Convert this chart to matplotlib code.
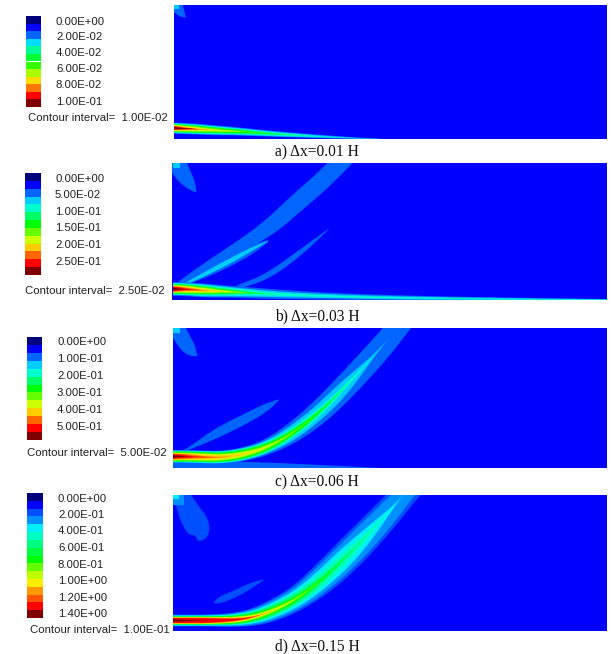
import numpy as np
import matplotlib
matplotlib.use('Agg')
import matplotlib.pyplot as plt
from matplotlib.patches import Rectangle

# colour ramps of the legends, low to high
ramp_a = ['#00007f', '#0000ff', '#0066ff', '#00ddff', '#00ff99', '#00ff33',
          '#33ff00', '#aaff00', '#ffdd00', '#ff7700', '#ff0000', '#800000']
ramp_bc = ['#00007f', '#0000ff', '#0066ff', '#00ccff', '#00ffcc', '#00ff66', '#00ff00',
           '#66ff00', '#ccff00', '#ffcc00', '#ff6600', '#ff0000', '#800000']
ramp_d = ['#00007f', '#0000ff', '#0050ff', '#0090ff', '#00eeff', '#00ffc0', '#00ff80', '#00ff40',
          '#00ff00', '#66ff00', '#bbff00', '#ffee00', '#ff9900', '#ff5500', '#ff0000', '#800000']

labels_a = ['0.00E+00', '2.00E-02', '4.00E-02', '6.00E-02', '8.00E-02', '1.00E-01']
labels_b = ['0.00E+00', '5.00E-02', '1.00E-01', '1.50E-01', '2.00E-01', '2.50E-01']
labels_c = ['0.00E+00', '1.00E-01', '2.00E-01', '3.00E-01', '4.00E-01', '5.00E-01']
labels_d = ['0.00E+00', '2.00E-01', '4.00E-01', '6.00E-01', '8.00E-01',
            '1.00E+00', '1.20E+00', '1.40E+00']

# jet of panel a: centre line and half width per colour level
a_x = [174, 182, 195, 215, 240, 270, 310, 350, 392]
a_y = [128, 128.5, 129, 130.3, 131.5, 133.7, 136, 138, 139.5]
a_hw = [[5.5, 5.5, 5.5, 5, 4, 3, 2, 1, 0.1],
        [5, 5, 4.8, 4.2, 3.3, 2.4, 1.3, 0.4, 0],
        [4.5, 4.5, 4.3, 3.7, 2.7, 1.7, 0.4, 0, 0],
        [4, 4, 3.8, 3.1, 2.1, 0.8, 0, 0, 0],
        [3.6, 3.6, 3.3, 2.5, 1.3, 0, 0, 0, 0],
        [3.2, 3.2, 2.8, 1.8, 0.4, 0, 0, 0, 0],
        [2.8, 2.7, 2, 0.8, 0, 0, 0, 0, 0],
        [2.4, 2.2, 1.1, 0, 0, 0, 0, 0, 0],
        [2, 1.5, 0.2, 0, 0, 0, 0, 0, 0],
        [1.7, 1, 0, 0, 0, 0, 0, 0, 0],
        [1.2, 0.4, 0, 0, 0, 0, 0, 0, 0]]

# jet of panel b
b_x = [173, 180, 190, 205, 225, 245, 270, 320, 400, 500, 607]
b_y = [289, 289, 289.5, 290.5, 291.5, 292.5, 294, 296, 298, 299, 300]
b_hw = [[7, 7, 7, 7, 6, 5.5, 5, 3.5, 2.5, 1.5, 1],
        [6, 6, 6, 6, 5, 4, 3, 2, 1.5, 1, 0.7],
        [5.5, 5.5, 5.5, 5, 4, 3, 1.5, 0.8, 0.6, 0.4, 0.3],
        [5, 5, 4.7, 4.2, 3, 1.5, 0, 0, 0, 0, 0],
        [4.5, 4.5, 4.2, 3.5, 2.2, 0.3, 0, 0, 0, 0, 0],
        [4, 4, 3.6, 3, 1.5, 0, 0, 0, 0, 0, 0],
        [3.5, 3.4, 3, 2.2, 0.5, 0, 0, 0, 0, 0, 0],
        [3, 2.8, 2.2, 1, 0, 0, 0, 0, 0, 0, 0],
        [2.6, 2.3, 1.3, 0, 0, 0, 0, 0, 0, 0, 0],
        [2.4, 1.5, 0.2, 0, 0, 0, 0, 0, 0, 0, 0],
        [1.5, 0.3, 0, 0, 0, 0, 0, 0, 0, 0, 0]]
b_up_x = [173, 200, 233, 267, 300, 320, 340, 355]
b_up_y = [287, 270, 250, 230, 200, 183, 163, 148]
b_up_hw = [1, 3.5, 5, 8, 9, 9, 9, 9]
b_sub_x = [178, 205, 230, 250, 268]
b_sub_y = [285, 274, 261, 250, 241]
b_sub_hw = [2, 4, 5, 5, 1]
b_streak_x = [185, 205, 230, 250, 268]
b_streak_y = [284, 274, 261, 250, 241]
b_streak_hw = [1, 2, 2.5, 1.8, 0.2]
b_low_x = [238, 267, 300, 331]
b_low_y = [287, 277, 253, 227]
b_low_hw = [2, 3, 3, 0]

# jet of panel c
c_x = [173, 185, 200, 225, 250, 270, 293, 320, 345, 370, 385, 397, 405]
c_y = [456.5, 456.5, 457, 457.5, 453, 446, 433, 412, 387, 360, 343, 328, 318]
c_hw = [[6.5, 6.5, 6.5, 6.5, 7, 8, 10, 11.5, 12, 12, 11.5, 11, 11],
        [6, 6, 6, 6, 6, 6, 7, 7, 6.5, 1.5, 0, 0, 0],
        [5.5, 5.5, 5.5, 5.5, 5.5, 5, 4.5, 3.5, 1.5, 0, 0, 0, 0],
        [5.2, 5, 5, 5, 4.8, 4, 3.2, 1.5, 0, 0, 0, 0, 0],
        [4.8, 4.8, 4.7, 4.5, 4, 3.2, 2.2, 0.5, 0, 0, 0, 0, 0],
        [4, 4, 3.9, 3.5, 2.8, 1.8, 0.6, 0, 0, 0, 0, 0, 0],
        [3.6, 3.5, 3.3, 2.8, 1.8, 0.6, 0, 0, 0, 0, 0, 0, 0],
        [3.2, 3, 2.7, 1.6, 0.3, 0, 0, 0, 0, 0, 0, 0, 0],
        [2.8, 2.5, 1.2, 0, 0, 0, 0, 0, 0, 0, 0, 0, 0],
        [2.4, 1.2, 0, 0, 0, 0, 0, 0, 0, 0, 0, 0, 0],
        [1.5, 0, 0, 0, 0, 0, 0, 0, 0, 0, 0, 0, 0]]
c_side_x = [180, 192, 217, 247, 267, 280]
c_side_y = [453, 447, 433, 418, 407, 399]
c_side_hw = [0.5, 1.5, 5, 5, 4, 0]
c_low_x = [173, 240, 385]
c_low_y = [465, 465, 468.5]
c_low_hw = [3.5, 4, 0.3]

# jet of panel d
d_x = [173, 190, 210, 235, 255, 275, 300, 325, 350, 375, 395, 405, 415]
d_y = [620.5, 620.5, 620.5, 620, 617, 610, 597, 577, 553, 527, 505, 493, 482]
d_hw = [[6, 6, 6, 7, 9, 11, 12.5, 15, 16, 15, 13.5, 13, 13],
        [5.5, 5.5, 5.5, 6.5, 8, 9.5, 10.5, 12.5, 13, 12, 10, 9, 9],
        [5, 5, 5, 5.5, 6.5, 7.5, 8, 9, 9, 5, 0.5, 0, 0],
        [4.6, 4.6, 4.6, 5, 5.5, 6, 6.2, 6, 5, 1, 0, 0, 0],
        [4.2, 4.2, 4.2, 4.5, 5, 5, 4.7, 3.2, 1.2, 0, 0, 0, 0],
        [3.9, 3.9, 3.9, 4.1, 4.3, 4, 3.3, 1.2, 0, 0, 0, 0, 0],
        [3.7, 3.7, 3.7, 3.6, 3.4, 2.8, 1.6, 0.3, 0, 0, 0, 0, 0],
        [3.5, 3.5, 3.4, 3.1, 2.7, 2, 0.8, 0, 0, 0, 0, 0, 0],
        [3.3, 3.3, 3.2, 2.8, 2, 1, 0, 0, 0, 0, 0, 0, 0],
        [3.1, 3.1, 3, 2.5, 1.3, 0.3, 0, 0, 0, 0, 0, 0, 0],
        [2.9, 2.9, 2.8, 2, 0.6, 0, 0, 0, 0, 0, 0, 0, 0],
        [2.7, 2.7, 2.6, 1.4, 0, 0, 0, 0, 0, 0, 0, 0, 0],
        [2.4, 2.4, 2.2, 0.8, 0, 0, 0, 0, 0, 0, 0, 0, 0],
        [1.5, 0.5, 0, 0, 0, 0, 0, 0, 0, 0, 0, 0, 0]]
d_side_x = [214, 220, 235, 250, 263]
d_side_y = [603, 600, 594, 586, 580]
d_side_hw = [0.5, 3.5, 3.5, 3, 0.5]

# blobs in the upper left corners
a_blob_x = [176, 180, 186]
a_blob_y = [4, 12, 18]
a_blob_hw = [6, 5, 0]
b_blob_x = [176, 180, 190, 196]
b_blob_y = [158, 170, 184, 192]
b_blob_hw = [9, 9, 6, 0.5]
c_blob_x = [176, 180, 190, 197]
c_blob_y = [324, 335, 350, 356]
c_blob_hw = [8, 8, 7, 0.5]
d_blob_x = [180, 188, 197, 201, 198]
d_blob_y = [490, 510, 525, 535, 541]
d_blob_hw = [7, 11, 13, 9, 0]

fig = plt.figure(figsize=(6.11, 6.54), dpi=100)
ax = fig.add_axes([0, 0, 1, 1])
ax.set_xlim(0, 611)
ax.set_ylim(654, 0)
ax.axis('off')


def smooth(v):
    # round the corners of a hand read outline
    t = np.arange(len(v))
    tf = np.linspace(0, len(v) - 1, (len(v) - 1) * 12 + 1)
    vf = np.interp(tf, t, v)
    pad = np.pad(vf, 12, mode='reflect', reflect_type='odd')
    return np.convolve(pad, np.ones(13) / 13, mode='same')[12:-12]


def ribbon(xs, ys, hw, color, clip):
    xs = smooth(np.array(xs, float))
    ys = smooth(np.array(ys, float))
    hw = np.clip(smooth(np.array(hw, float)), 0, None)
    keep = hw > 0.05
    dx = np.gradient(xs)
    dy = np.gradient(ys)
    nn = np.hypot(dx, dy)
    px = (-dy / nn * hw)[keep]
    py = (dx / nn * hw)[keep]
    xs = xs[keep]
    ys = ys[keep]
    poly = ax.fill(np.r_[xs + px, (xs - px)[::-1]], np.r_[ys + py, (ys - py)[::-1]],
                   color=color, lw=0)[0]
    poly.set_clip_path(clip)


def panel(x0, x1, y0, y1, bg):
    r = Rectangle((x0, y0), x1 - x0, y1 - y0, fc=bg, ec='none')
    ax.add_patch(r)
    return r


def corner(x0, y0, w, h, color):
    ax.add_patch(Rectangle((x0, y0), w, h, fc=color, ec='none'))


def legend(x0, x1, y0, y1, ramp, labels, lab_x, lab_y, note, note_x, note_y):
    step = (y1 - y0) / len(ramp)
    ax.barh(y0 + step * (np.arange(len(ramp)) + 0.5), x1 - x0, height=step, left=x0, color=ramp, lw=0)
    for s, yy in zip(labels, lab_y):
        ax.text(lab_x, yy, s, fontsize=8.2, family='Liberation Sans', va='center', color='#222222')
    ax.text(note_x, note_y, note, fontsize=8.2, family='Liberation Sans', va='center', color='#222222')


def caption(x, y, s):
    ax.text(x, y, s, fontsize=11.2, family='Liberation Serif', ha='center', va='center', color='#111111')


# a
clip = panel(174, 607, 5, 139, ramp_a[1])
ribbon(a_blob_x, a_blob_y, a_blob_hw, ramp_bc[2], clip)
corner(174, 5, 5, 4, ramp_bc[3])
for i, row in enumerate(a_hw):
    ribbon(a_x, a_y, row, ramp_bc[i + 2], clip)
legend(26, 41, 16, 107, ramp_a, labels_a, 56, [22, 37, 53, 69, 85, 102],
       'Contour interval=  1.00E-02', 28, 118)
caption(317, 152, 'a) Δx=0.01 H')

# b
clip = panel(172, 607, 163, 300, ramp_bc[1])
ribbon(b_blob_x, b_blob_y, b_blob_hw, ramp_bc[2], clip)
corner(173, 163, 7, 5, ramp_bc[3])
ribbon(b_up_x, b_up_y, b_up_hw, ramp_bc[2], clip)
ribbon(b_sub_x, b_sub_y, b_sub_hw, ramp_bc[2], clip)
ribbon(b_low_x, b_low_y, b_low_hw, ramp_bc[2], clip)
ribbon(b_streak_x, b_streak_y, b_streak_hw, ramp_bc[3], clip)
for i, row in enumerate(b_hw):
    ribbon(b_x, b_y, row, ramp_bc[i + 2], clip)
legend(25, 41, 173, 275, ramp_bc, labels_b, 55, [179, 195, 212, 228, 245, 262],
       'Contour interval=  2.50E-02', 25, 291)
caption(317, 316, 'b) Δx=0.03 H')

# c
clip = panel(173, 607, 328, 468, ramp_bc[1])
ribbon(c_blob_x, c_blob_y, c_blob_hw, ramp_bc[2], clip)
corner(173, 328, 7, 5, ramp_bc[3])
ribbon(c_side_x, c_side_y, c_side_hw, ramp_bc[2], clip)
ribbon(c_low_x, c_low_y, c_low_hw, ramp_bc[2], clip)
for i, row in enumerate(c_hw):
    ribbon(c_x, c_y, row, ramp_bc[i + 2], clip)
legend(27, 42, 337, 440, ramp_bc, labels_c, 57, [342, 359, 376, 393, 410, 427],
       'Contour interval=  5.00E-02', 27, 453)
caption(317, 482, 'c) Δx=0.06 H')

# d
clip = panel(173, 607, 495, 631, ramp_d[1])
ribbon(d_blob_x, d_blob_y, d_blob_hw, ramp_d[2], clip)
corner(173, 495, 11, 10, ramp_d[3])
corner(173, 495, 6, 4, ramp_d[4])
ribbon(d_side_x, d_side_y, d_side_hw, ramp_d[2], clip)
for i, row in enumerate(d_hw):
    ribbon(d_x, d_y, row, ramp_d[i + 2], clip)
legend(27, 43, 493, 618, ramp_d, labels_d, 58, [499, 515, 531, 548, 565, 581, 598, 614],
       'Contour interval=  1.00E-01', 30, 630)
caption(317, 646, 'd) Δx=0.15 H')

fig.savefig('out.png', dpi=100)
